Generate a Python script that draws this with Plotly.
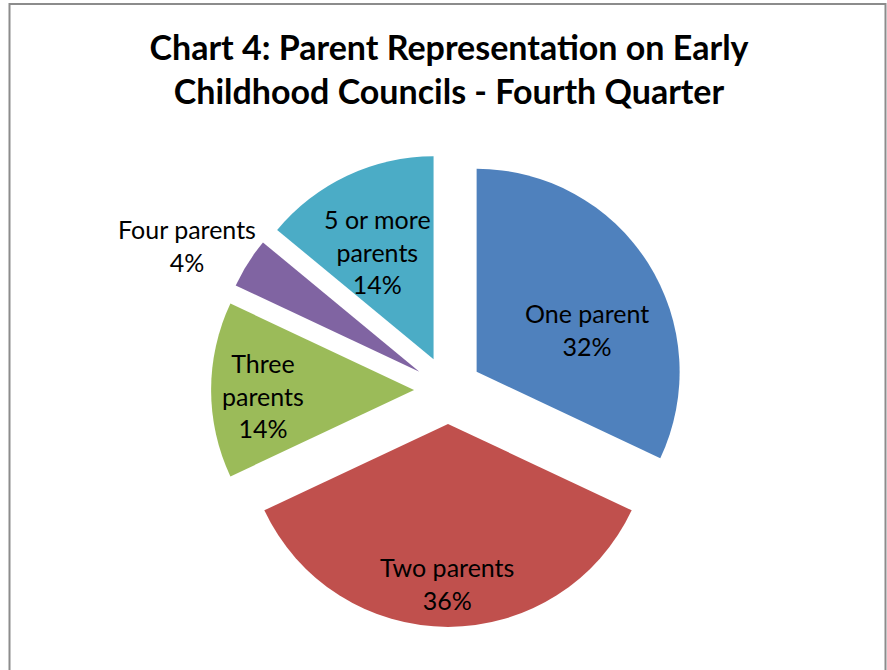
import plotly.graph_objects as go

# Parent representation on early childhood councils, fourth quarter
categories = ["One parent", "Two parents", "Three parents", "Four parents", "5 or more parents"]
percentages = [32, 36, 14, 4, 14]
label_lines = ["One parent", "Two parents", "Three<br>parents", "Four parents", "5 or more<br>parents"]
colors = ["#4F81BD", "#C0504D", "#9BBB59", "#8064A2", "#4BACC6"]

W, H = 887, 670
FONT = "Lato, Carlito, Calibri, sans-serif"

# pie geometry (pixels)
cx, cy, radius, pull = 448, 390, 203, 0.167
half = radius * (1 + pull)

fig = go.Figure(
    go.Pie(
        labels=categories,
        values=percentages,
        sort=False,
        direction="clockwise",
        rotation=0,
        pull=[pull] * len(percentages),
        marker=dict(colors=colors, line=dict(width=0)),
        textinfo="none",
        hoverinfo="label+percent",
        showlegend=False,
        domain=dict(
            x=[(cx - half) / W, (cx + half) / W],
            y=[1 - (cy + half) / H, 1 - (cy - half) / H],
        ),
    )
)

# data label placement (pixel centres of each text block)
label_pos = [(587, 329), (447, 583), (263, 395), (187, 245), (377, 251)]
for text, pct, (lx, ly) in zip(label_lines, percentages, label_pos):
    fig.add_annotation(
        text=f"{text}<br>{pct}%",
        x=lx / W, y=1 - ly / H, xref="paper", yref="paper",
        xanchor="center", yanchor="middle", showarrow=False,
        font=dict(family=FONT, size=25, color="#000000"),
    )

# chart frame
fig.add_shape(
    type="rect", xref="paper", yref="paper",
    x0=9.5 / W, x1=885.5 / W, y0=-0.05, y1=1 - 4 / H,
    line=dict(color="#8C8C8C", width=2), fillcolor="rgba(0,0,0,0)",
)

fig.update_layout(
    width=W, height=H,
    margin=dict(l=0, r=0, t=0, b=0),
    paper_bgcolor="#FFFFFF",
    plot_bgcolor="#FFFFFF",
    title=dict(
        text="Chart 4: Parent Representation on Early<br>Childhood Councils - Fourth Quarter",
        x=449 / W, xanchor="center",
        y=1 - 60 / H, yanchor="top", yref="container",
        font=dict(family=FONT, size=34, color="#000000", weight="bold"),
    ),
)

fig.write_html("out.html")
